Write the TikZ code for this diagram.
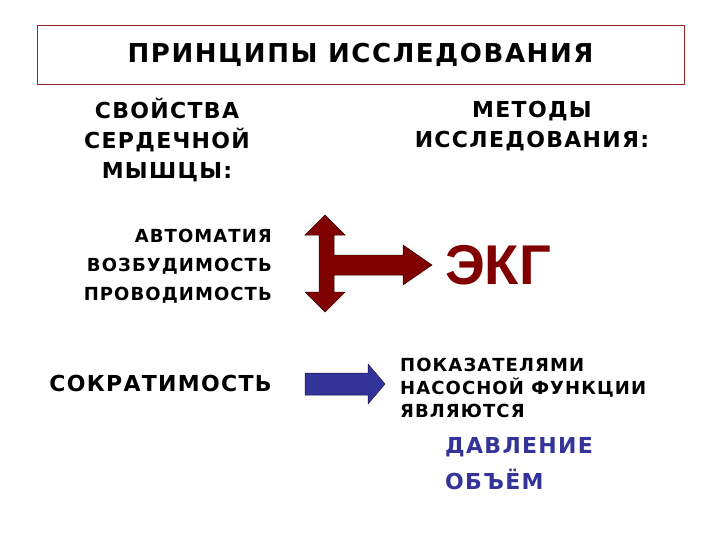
\documentclass[tikz,border=0pt]{standalone}
\usepackage{fontspec}
\setmainfont{DejaVu Sans}
\newfontfamily\lib{Liberation Sans}
\newfontfamily\wide[LetterSpace=6]{DejaVu Sans}
\definecolor{dred}{RGB}{128,0,0}
\definecolor{dblue}{RGB}{51,51,153}
\definecolor{bord}{RGB}{150,40,40}
\begin{document}
\begin{tikzpicture}[x=1pt,y=-1pt,
  txt/.style={font=\wide\bfseries\fontsize{22}{30}\selectfont,align=center,inner sep=0pt},
  sm/.style={font=\wide\bfseries\fontsize{18}{29}\selectfont,align=right,inner sep=0pt}]
\useasboundingbox (0,0) rectangle (720,540);
\node[draw=bord,line width=0.8pt,minimum width=647,minimum height=59,font=\wide\bfseries\fontsize{26}{26}\selectfont] (title) at (360.5,54.5) {ПРИНЦИПЫ ИССЛЕДОВАНИЯ};
\node[txt] (svo) at (167,140) {СВОЙСТВА\\СЕРДЕЧНОЙ\\МЫШЦЫ:};
\node[txt] (met) at (532,126) {МЕТОДЫ\\ИССЛЕДОВАНИЯ:};
\node[sm,anchor=east] (avt) at (272,266) {АВТОМАТИЯ\\ВОЗБУДИМОСТЬ\\ПРОВОДИМОСТЬ};
\node[txt,anchor=east] (sok) at (272,383) {СОКРАТИМОСТЬ};
\node[font=\lib\bfseries\fontsize{56}{56}\selectfont,text=dred,inner sep=0pt] (ekg) at (498,265) {ЭКГ};
\node[font=\wide\bfseries\fontsize{18}{23}\selectfont,align=left,anchor=west,inner sep=0pt] (pok) at (400,388) {ПОКАЗАТЕЛЯМИ\\НАСОСНОЙ ФУНКЦИИ\\ЯВЛЯЮТСЯ};
\node[font=\wide\bfseries\fontsize{22}{36}\selectfont,text=dblue,align=left,anchor=west,inner sep=0pt] (dav) at (445,464) {ДАВЛЕНИЕ\\ОБЪЁМ};
\fill[dred,draw=black!60!dred,line width=0.5pt] (325,215) -- (345,235) -- (334,235) -- (334,255) -- (403,255) -- (403,245) -- (432,265) -- (403,285) -- (403,275) -- (334,275) -- (334,292) -- (345,292) -- (325,312) -- (305,292) -- (319,292) -- (319,235) -- (305,235) -- cycle;
\fill[dblue,draw=black!60!dblue,line width=0.5pt] (305,373) -- (368,373) -- (368,364) -- (385,384) -- (368,404) -- (368,395) -- (305,395) -- cycle;
\end{tikzpicture}
\end{document}
